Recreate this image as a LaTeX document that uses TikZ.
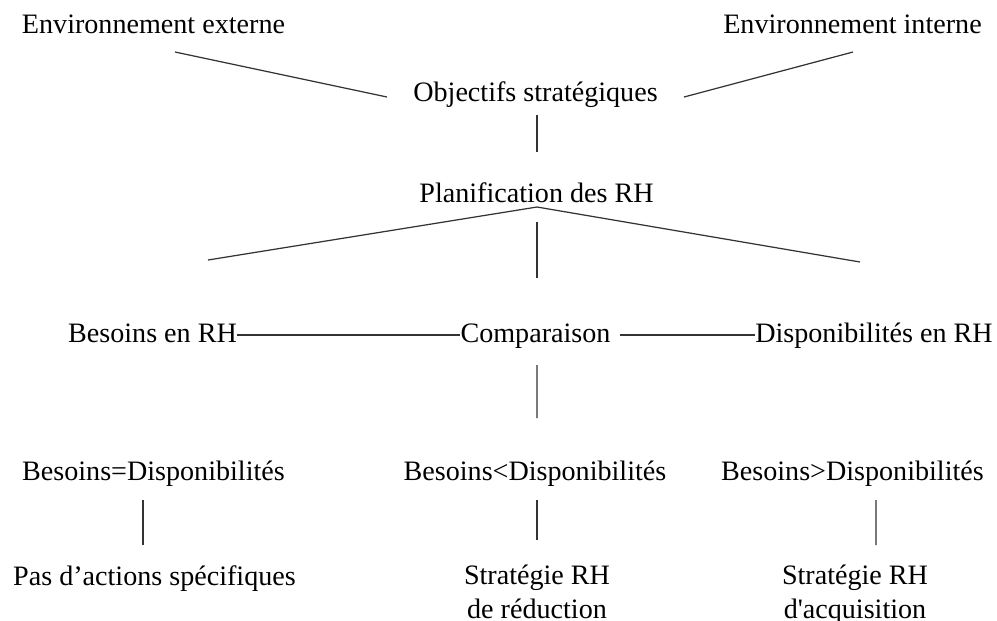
\documentclass[tikz,border=0pt]{standalone}
\usepackage{fontspec}
\setmainfont{Liberation Serif}
\usetikzlibrary{calc}

\begin{document}
\begin{tikzpicture}[x=0.02cm,y=-0.02cm,
    lbl/.style={inner sep=0pt,anchor=base,align=center,font=\fontsize{16}{18.8}\selectfont},
    lnk/.style={line width=0.7pt,black!80}]
    \useasboundingbox (0,0) rectangle (997,620);

    \node[lbl] (ext) at (153.5,33) {Environnement externe};
    \node[lbl] (int) at (852.5,33) {Environnement interne};
    \node[lbl] (obj) at (535.5,101) {Objectifs stratégiques};
    \node[lbl] (plan) at (536.5,202) {Planification des RH};

    \node[lbl] (bes) at (152.5,342) {Besoins en RH};
    \node[lbl] (comp) at (535.5,342) {Comparaison};
    \node[lbl] (dispo) at (874,342) {Disponibilités en RH};

    \foreach \n/\x/\t in {eq/153.5/Besoins=Disponibilités, lt/535/Besoins<Disponibilités, gt/852.5/Besoins>Disponibilités} {
        \node[lbl] (\n) at (\x,480) {\t};
    }

    \node[lbl] (pas) at (154.5,585) {Pas d’actions spécifiques};
    \node[lbl] (red) at (537,618) {Stratégie RH\\de réduction};
    \node[lbl] (acq) at (855,618) {Stratégie RH\\d\textquotesingle acquisition};

    \draw[lnk] ($(ext.base)+(21.5,19)$) -- ($(obj.base west)+(-26,-4)$);
    \draw[lnk] ($(obj.base east)+(26,-4)$) -- ($(int.base)+(0.5,19)$);
    \draw[lnk] ($(obj.base)+(1.5,14)$) -- ($(plan.base)+(0.5,-50)$);

    \draw[lnk] ($(bes.base)+(55.5,-82)$) -- ($(plan.base)+(0.5,5)$) -- ($(dispo.base)+(-14,-80)$);
    \draw[lnk] ($(plan.base)+(0.5,20)$) -- ($(comp.base)+(1.5,-64)$);

    \draw[lnk] ($(bes.base east)+(0,-7)$) -- ($(comp.base west)+(0,-7)$);
    \draw[lnk] ($(comp.base east)+(9,-7)$) -- ($(dispo.base west)+(0,-7)$);
    \draw[lnk] ($(comp.base)+(1.5,23)$) -- ($(lt.base)+(2,-62)$);

    \draw[lnk] ($(eq.base)+(-10.5,20)$) -- ($(pas.base)+(-11.5,-40)$);
    \draw[lnk] ($(lt.base)+(2,20)$) -- ($(red.base)+(0,-78)$);
    \draw[lnk] ($(gt.base)+(23.5,20)$) -- ($(acq.base)+(21,-73)$);
\end{tikzpicture}
\end{document}
